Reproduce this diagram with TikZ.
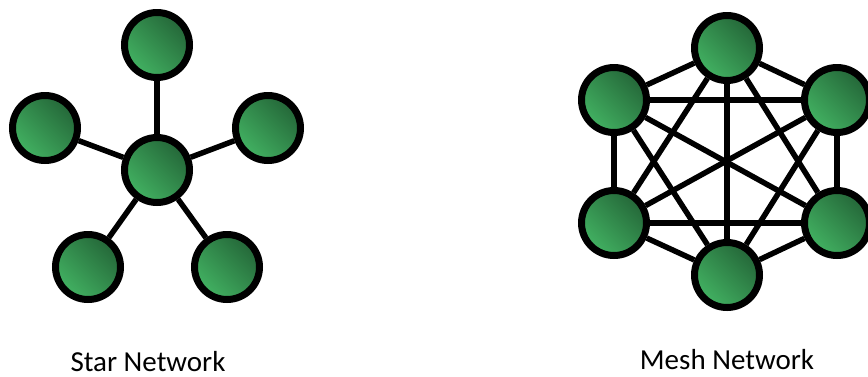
\documentclass[tikz,border=0pt]{standalone}
\usepackage{fontspec}
\setmainfont{Carlito}
\usetikzlibrary{backgrounds}
\definecolor{nodedark}{HTML}{246638}
\definecolor{nodelight}{HTML}{42B262}

\begin{document}
\begin{tikzpicture}[x=1pt,y=-1pt,
  host/.style={circle,draw=black,line width=7pt,minimum size=65pt,inner sep=0pt,
    shading=axis,top color=nodedark,bottom color=nodelight,shading angle=-45},
  link/.style={line width=5.5pt},
  caption/.style={font=\fontsize{29}{32}\selectfont,anchor=base}]
\useasboundingbox (0,0) rectangle (868,376);
% star
\node[host] (hub) at (157,170) {};
\node[host] (s1) at (157,45) {};
\node[host] (s2) at (45,128) {};
\node[host] (s3) at (268,128) {};
\node[host] (s4) at (88,267) {};
\node[host] (s5) at (227,267) {};
\begin{scope}[on background layer]
\foreach \i in {1,...,5}{
  \draw[link] (hub) -- (s\i);
}
\end{scope}
\node[caption] (starlabel) at (148,371) {Star Network};
% mesh
\node[host] (m1) at (727,48) {};
\node[host] (m2) at (837,100) {};
\node[host] (m3) at (837,223) {};
\node[host] (m4) at (727,275) {};
\node[host] (m5) at (614,223) {};
\node[host] (m6) at (614,100) {};
\begin{scope}[on background layer]
\foreach \i in {1,...,5}{
  \pgfmathtruncatemacro\nxt{\i+1}
  \foreach \j in {\nxt,...,6}{
    \draw[link] (m\i) -- (m\j);
  }
}
\end{scope}
\node[caption] (meshlabel) at (727,369) {Mesh Network};
\end{tikzpicture}
\end{document}
